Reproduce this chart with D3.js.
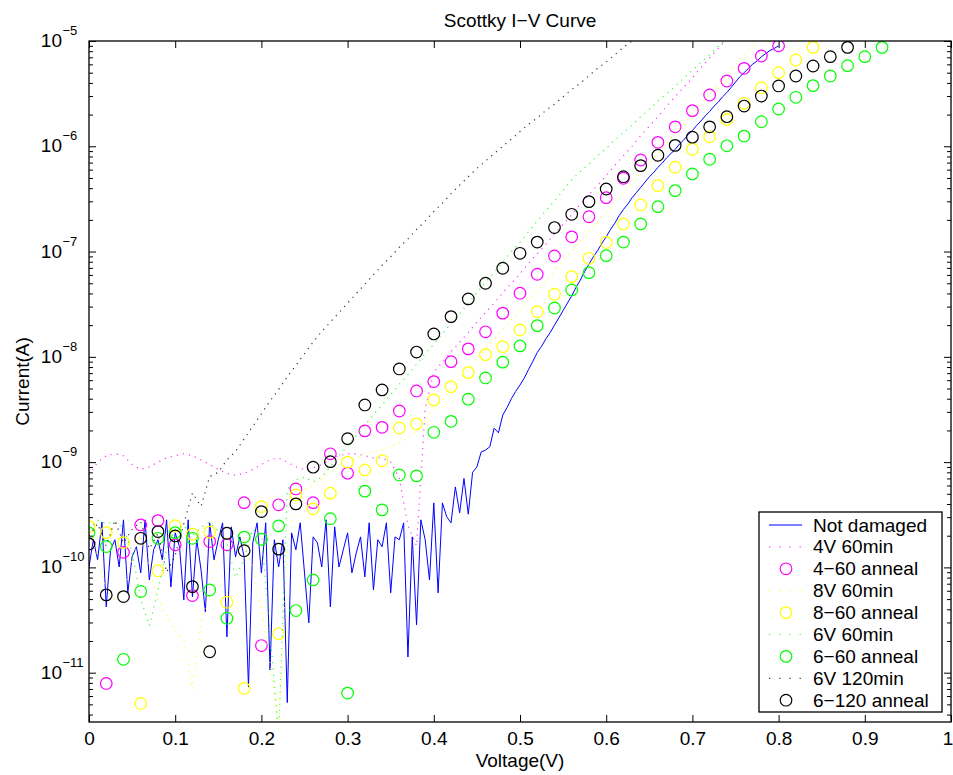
<!DOCTYPE html>
<html>
<head>
<meta charset="utf-8">
<script src="https://cdn.jsdelivr.net/npm/d3@7"></script>
<style>
  body { margin: 0; background: #fff; }
  text { font-family: "Liberation Sans", Arial, Helvetica, sans-serif; }
</style>
</head>
<body>
<div id="chart"></div>
<script>
// ---- data (current in A) ----
// sweep steps of the measurements (V)
const sweepStep = 0.005;   // "Not damaged"
const dottedStep = 0.01;   // damaged curves
const annealStep = 0.02;   // anneal circles

const notDamaged = [
  1.01e-10, 1.83e-10, 1.18e-10, 2.7e-10, 4.22e-11, 1.47e-10, 1.83e-10, 1.01e-10, 2.83e-10, 5.73e-11,
  1.26e-10, 1.57e-10, 8.87e-11, 2.83e-10, 7.6e-11, 1.47e-10, 1.83e-10, 1.18e-10, 2.83e-10, 6.53e-11,
  2.13e-10, 1.57e-10, 4.91e-11, 2.83e-10, 5.25e-11, 1.83e-10, 9.46e-11, 3.78e-11, 2.65e-10, 1.18e-10,
  1.83e-10, 2.65e-10, 2.19e-11, 2.43e-10, 1.26e-10, 1.95e-10, 1.26e-10, 7.3e-12, 1.71e-10, 2.65e-10,
  8.87e-11, 2.65e-10, 1.06e-11, 1.83e-10, 1.01e-10, 1.83e-10, 5.2e-12, 2.13e-10, 1.47e-10, 2.65e-10,
  8.87e-11, 2.97e-11, 1.95e-10, 1.71e-10, 1.01e-10, 2.83e-10, 4.22e-11, 2.43e-10, 1.01e-10, 1.47e-10,
  2.13e-10, 8.87e-11, 1.37e-10, 1.95e-10, 8.13e-11, 2.65e-10, 6.11e-11, 1.83e-10, 1.57e-10, 2.65e-10,
  5.73e-11, 1.95e-10, 1.83e-10, 2.65e-10, 1.41e-11, 1.95e-10, 2.85e-11, 2.83e-10, 1.83e-10, 7.6e-11,
  4.1e-10, 5.73e-11, 4.1e-10, 3.02e-10, 2.65e-10, 5.81e-10,
  3.3e-10, 7.0e-10, 3.2e-10, 8.0e-10, 9.0e-10, 1.25e-9, 1.3e-9, 1.4e-9, 2.1e-9, 1.9e-9,
  2.8e-9, 3.3e-9, 4.0e-9, 4.7e-9,
  5.4e-9, 6.3e-9, 7.6e-9, 9.1e-9, 1.1e-8, 1.26e-8, 1.48e-8, 1.7e-8, 2.0e-8, 2.34e-8,
  2.75e-8, 3.24e-8, 3.8e-8, 4.57e-8, 5.37e-8, 6.46e-8, 7.6e-8, 8.9e-8, 1.02e-7, 1.2e-7,
  1.38e-7, 1.62e-7, 1.86e-7, 2.19e-7, 2.51e-7, 2.82e-7, 3.24e-7, 3.63e-7, 4.07e-7, 4.57e-7,
  5.13e-7, 5.62e-7, 6.31e-7, 6.92e-7, 7.76e-7, 8.51e-7, 9.33e-7, 1.05e-6, 1.15e-6, 1.29e-6,
  1.41e-6, 1.58e-6, 1.74e-6, 1.95e-6, 2.14e-6, 2.4e-6, 2.63e-6, 2.95e-6, 3.24e-6, 3.63e-6,
  4.07e-6, 4.57e-6, 5.01e-6, 5.5e-6, 6.03e-6, 6.46e-6, 7.08e-6, 7.59e-6, 8.13e-6, 8.51e-6,
  9.0e-6
];

const dmg4V60 = [
  7.5e-10, 1.0e-9, 1.15e-9, 1.2e-9, 1.15e-9, 9.5e-10, 8.5e-10, 9.0e-10, 1.0e-9, 1.1e-9,
  1.15e-9, 1.2e-9, 1.15e-9, 1.05e-9, 9.5e-10, 8.5e-10, 7.8e-10, 7.5e-10, 7.8e-10, 8.5e-10,
  9.5e-10, 1.05e-9, 1.1e-9, 1.0e-9, 9.0e-10, 8.5e-10, 8.8e-10, 9.5e-10, 1.05e-9, 1.15e-9,
  1.2e-9, 1.2e-9, 1.15e-9, 1.1e-9, 1.1e-9, 1.0e-9, 7e-10, 2.5e-10, 1.6e-10, 3.2e-9,
  7.2e-9, 8.9e-9, 1.12e-8, 1.38e-8, 1.7e-8, 2.14e-8, 2.63e-8, 3.24e-8, 4.07e-8, 5.01e-8,
  6.17e-8, 7.76e-8, 9.55e-8, 1.17e-7, 1.48e-7, 1.82e-7, 2.24e-7, 2.82e-7, 3.47e-7, 4.27e-7,
  5.25e-7, 6.61e-7, 8.13e-7, 1.0e-6, 1.26e-6, 1.55e-6, 1.91e-6, 2.4e-6, 2.95e-6, 3.63e-6,
  4.47e-6, 5.62e-6, 6.92e-6, 8.51e-6, 1.05e-5
];

const dmg8V60 = [
  2.0e-10, 1.3e-10, 6e-11, 5e-11, 6e-11, 1.2e-10, 2.0e-10, 1.0e-10, 5e-11, 3.5e-11,
  2.5e-11, 2.0e-11, 7e-12, 3e-11, 6e-11, 1.5e-10, 2.0e-10, 1.5e-10, 1.8e-10, 1.0e-10,
  4e-11, 1.2e-11, 3e-12, 1.5e-10, 4.5e-10, 5.5e-10, 6e-10, 7e-10, 8e-10, 9e-10,
  1.0e-9, 1.1e-9, 1.2e-9, 1.25e-9, 1.3e-9, 1.4e-9, 1.5e-9, 1.7e-9, 2.0e-9, 2.5e-9,
  3.24e-9, 3.98e-9, 5.01e-9, 6.17e-9, 7.59e-9, 9.55e-9, 1.17e-8, 1.45e-8, 1.82e-8, 2.24e-8,
  2.75e-8, 3.47e-8, 4.27e-8, 5.25e-8, 6.61e-8, 8.13e-8, 1.0e-7, 1.26e-7, 1.55e-7, 1.91e-7,
  2.34e-7, 2.95e-7, 3.63e-7, 4.47e-7, 5.62e-7, 6.92e-7, 8.51e-7, 1.07e-6, 1.32e-6, 1.62e-6,
  2.0e-6, 2.51e-6, 3.09e-6, 3.8e-6, 4.68e-6, 5.89e-6, 7.24e-6, 8.91e-6, 1.12e-5
];

const dmg6V60 = [
  2.3e-10, 2.8e-10, 2.6e-10, 2.7e-10, 2.4e-10, 1.4e-10, 5e-11, 2.8e-11, 6e-11, 1.5e-10,
  2.3e-10, 2.5e-10, 2.0e-10, 2.4e-10, 2.7e-10, 2.2e-10, 1.7e-10, 8e-11, 1.2e-10, 2.3e-10,
  2.0e-10, 2.5e-11, 2.5e-12, 5.5e-10, 6.8e-10, 7.2e-10, 6.5e-10, 7.2e-10, 9.1e-10, 1.15e-9,
  1.41e-9, 1.78e-9, 2.24e-9, 2.82e-9, 3.47e-9, 4.37e-9, 5.5e-9, 6.76e-9, 8.51e-9, 1.07e-8,
  1.32e-8, 1.66e-8, 2.09e-8, 2.57e-8, 3.24e-8, 4.07e-8, 5.13e-8, 6.31e-8, 7.94e-8, 1.0e-7,
  1.23e-7, 1.55e-7, 1.95e-7, 2.45e-7, 3.02e-7, 3.8e-7, 4.79e-7, 5.75e-7, 6.76e-7, 8.13e-7,
  9.55e-7, 1.15e-6, 1.35e-6, 1.58e-6, 1.91e-6, 2.24e-6, 2.69e-6, 3.16e-6, 3.72e-6, 4.47e-6,
  5.25e-6, 6.31e-6, 7.41e-6, 8.91e-6, 1.05e-5
];

const dmg6V120 = [
  2.0e-10, 2.6e-10, 1.6e-10, 2.8e-10, 1.7e-10, 2.3e-10, 2.7e-10, 1.5e-10, 2.1e-10, 9e-11,
  1.3e-10, 2.6e-10, 5.1e-10, 3.8e-10, 7.3e-10, 8e-10, 1.05e-9, 1.26e-9, 1.66e-9, 2.19e-9,
  2.88e-9, 3.8e-9, 4.9e-9, 6.46e-9, 8.3e-9, 1.07e-8, 1.38e-8, 1.74e-8, 2.14e-8, 2.63e-8,
  3.24e-8, 3.98e-8, 4.9e-8, 6.03e-8, 7.41e-8, 8.91e-8, 1.1e-7, 1.32e-7, 1.62e-7, 1.95e-7,
  2.4e-7, 2.88e-7, 3.55e-7, 4.27e-7, 5.13e-7, 6.17e-7, 7.24e-7, 8.51e-7, 1.0e-6, 1.17e-6,
  1.38e-6, 1.62e-6, 1.86e-6, 2.19e-6, 2.51e-6, 2.95e-6, 3.47e-6, 3.98e-6, 4.68e-6, 5.5e-6,
  6.31e-6, 7.41e-6, 8.71e-6, 1.0e-5, 1.17e-5
];

const anneal4_60 = [
  1.67e-10, 7.9e-12, 1.39e-10, 2.53e-10, 2.78e-10, 1.64e-10, 5.4e-11, 1.76e-10, 1.64e-10, 4.12e-10,
  1.81e-11, 3.93e-10, 5.56e-10, 4.12e-10, 1.2e-9, 7.85e-10, 1.98e-9, 2.14e-9, 3.06e-9, 4.74e-9,
  5.82e-9, 9.0e-9, 1.19e-8, 1.73e-8, 2.6e-8, 4.02e-8, 6.09e-8, 9.08e-8, 1.38e-7, 2.14e-7,
  3.25e-7, 4.97e-7, 7.41e-7, 1.09e-6, 1.53e-6, 2.18e-6, 3.07e-6, 4.17e-6, 5.5e-6, 7.2e-6,
  9.0e-6
];

const anneal8_60 = [
  2.44e-10, 2.14e-10, 1.72e-10, 5.1e-12, 9.3e-11, 2.49e-10, 2.07e-10, 2.16e-10, 4.67e-11, 7.1e-12,
  3.78e-10, 2.34e-11, 4.88e-10, 3.6e-10, 5.07e-10, 1.0e-9, 8.43e-10, 1.03e-9, 2.11e-9, 2.31e-9,
  3.9e-9, 5.21e-9, 7.08e-9, 1.05e-8, 1.25e-8, 1.8e-8, 2.69e-8, 3.93e-8, 5.78e-8, 8.63e-8,
  1.22e-7, 1.83e-7, 2.77e-7, 4.23e-7, 6.32e-7, 9.37e-7, 1.23e-6, 1.8e-6, 2.56e-6, 3.6e-6,
  5.0e-6, 6.6e-6, 8.7e-6
];

const anneal6_60 = [
  2.13e-10, 1.58e-10, 1.34e-11, 5.9e-11, 1.89e-10, 2.14e-10, 1.89e-10, 6.1e-11, 3.29e-11, 1.94e-10,
  1.85e-10, 2.48e-10, 3.89e-11, 7.6e-11, 2.9e-10, 6.4e-12, 5.3e-10, 3.52e-10, 7.55e-10, 7.4e-10,
  1.92e-9, 2.44e-9, 3.96e-9, 6.3e-9, 8.9e-9, 1.27e-8, 1.98e-8, 2.91e-8, 4.32e-8, 6.3e-8,
  9.14e-8, 1.23e-7, 1.83e-7, 2.67e-7, 3.79e-7, 5.46e-7, 7.53e-7, 1.01e-6, 1.25e-6, 1.71e-6,
  2.26e-6, 2.92e-6, 3.77e-6, 4.65e-6, 5.83e-6, 7.1e-6, 8.7e-6
];

const anneal6_120 = [
  1.67e-10, 5.48e-11, 5.28e-11, 1.89e-10, 2.19e-10, 1.99e-10, 6.57e-11, 1.58e-11, 2.11e-10, 1.44e-10,
  3.39e-10, 1.49e-10, 4.01e-10, 8.95e-10, 1.01e-9, 1.67e-9, 3.49e-9, 4.85e-9, 7.67e-9, 1.11e-8,
  1.65e-8, 2.41e-8, 3.55e-8, 5.0e-8, 6.94e-8, 9.63e-8, 1.23e-7, 1.69e-7, 2.26e-7, 2.98e-7,
  3.93e-7, 5.14e-7, 6.55e-7, 8.22e-7, 1.02e-6, 1.22e-6, 1.53e-6, 1.91e-6, 2.41e-6, 3.0e-6,
  3.74e-6, 4.65e-6, 5.79e-6, 7.1e-6, 8.7e-6
];

const xTicks = [0, 0.1, 0.2, 0.3, 0.4, 0.5, 0.6, 0.7, 0.8, 0.9, 1];
const yDecades = [-11, -10, -9, -8, -7, -6, -5];
const yMin = 3.4e-12, yMax = 1e-5;

const series = [
  { name: 'Not damaged', values: notDamaged, step: sweepStep, color: '#0000ff', kind: 'line' },
  { name: '4V 60min', values: dmg4V60, step: dottedStep, color: '#ff00ff', kind: 'dot' },
  { name: '4\u221260 anneal', values: anneal4_60, step: annealStep, color: '#ff00ff', kind: 'circle' },
  { name: '8V 60min', values: dmg8V60, step: dottedStep, color: '#ffff00', kind: 'dot' },
  { name: '8\u221260 anneal', values: anneal8_60, step: annealStep, color: '#ffff00', kind: 'circle' },
  { name: '6V 60min', values: dmg6V60, step: dottedStep, color: '#00ff00', kind: 'dot' },
  { name: '6\u221260 anneal', values: anneal6_60, step: annealStep, color: '#00ff00', kind: 'circle' },
  { name: '6V 120min', values: dmg6V120, step: dottedStep, color: '#000000', kind: 'dot' },
  { name: '6\u2212120 anneal', values: anneal6_120, step: annealStep, color: '#000000', kind: 'circle' },
];

// ---- layout ----
const W = 953, H = 775;
const box = { left: 89, top: 41, right: 951, bottom: 722 };
const fontSize = 19;

const svg = d3.select('#chart').append('svg').attr('width', W).attr('height', H);
svg.append('rect').attr('width', W).attr('height', H).attr('fill', '#fff');

const x = d3.scaleLinear().domain([0, 1]).range([box.left, box.right]);
const y = d3.scaleLog().domain([yMin, yMax]).range([box.bottom, box.top]);

svg.append('clipPath').attr('id', 'clip')
  .append('rect')
  .attr('x', box.left).attr('y', box.top)
  .attr('width', box.right - box.left).attr('height', box.bottom - box.top);

const toPoints = (s) => s.values.map((v, i) => ({ v: i * s.step, i: v }));

// ---- axes ----
const majorY = yDecades.map((e) => Math.pow(10, e));
const minorY = [];
yDecades.concat([-12]).forEach((e) => {
  for (let m = 2; m <= 9; m++) {
    const val = m * Math.pow(10, e);
    if (val > yMin && val < yMax) minorY.push(val);
  }
});

const styleAxis = (g) => {
  g.select('.domain').remove();
  g.selectAll('line').attr('stroke', '#000').attr('stroke-width', 1);
  g.attr('font-family', null).attr('font-size', null);
};

const xLabels = svg.append('g').attr('transform', `translate(0,${box.bottom})`)
  .call(d3.axisBottom(x).tickValues(xTicks).tickSizeInner(-7).tickSizeOuter(0)
    .tickPadding(10).tickFormat(d3.format('~g')))
  .call(styleAxis)
  .selectAll('text').attr('font-size', fontSize).attr('fill', '#000');
// last label sits on the right edge of the window
xLabels.filter((d) => d === 1).attr('dx', -3.5);

svg.append('g').attr('transform', `translate(0,${box.top})`)
  .call(d3.axisTop(x).tickValues(xTicks).tickSizeInner(-7).tickSizeOuter(0).tickFormat(''))
  .call(styleAxis);

[[d3.axisLeft, box.left], [d3.axisRight, box.right]].forEach(([axisFn, xpos]) => {
  svg.append('g').attr('transform', `translate(${xpos},0)`)
    .call(axisFn(y).tickValues(majorY).tickSizeInner(-7).tickSizeOuter(0).tickFormat(''))
    .call(styleAxis);
  svg.append('g').attr('transform', `translate(${xpos},0)`)
    .call(axisFn(y).tickValues(minorY).tickSizeInner(-4).tickSizeOuter(0).tickFormat(''))
    .call(styleAxis);
});

// y tick labels 10^n
const yLab = svg.append('g');
yDecades.forEach((e) => {
  const yy = y(Math.pow(10, e));
  yLab.append('text').attr('x', 62).attr('y', yy + 6).attr('text-anchor', 'end')
    .attr('font-size', fontSize).text('10');
  yLab.append('text').attr('x', 62.5).attr('y', yy - 6).attr('font-size', 13)
    .text('\u2212' + Math.abs(e));
});

// ---- marks ----
const plot = svg.append('g').attr('clip-path', 'url(#clip)');
const line = d3.line().x((d) => x(d.v)).y((d) => y(Math.max(d.i, 1e-13)));

series.forEach((s) => {
  const pts = toPoints(s);
  if (s.kind === 'line') {
    plot.append('path').datum(pts).attr('d', line)
      .attr('fill', 'none').attr('stroke', s.color).attr('stroke-width', 1);
  } else if (s.kind === 'dot') {
    plot.append('path').datum(pts).attr('d', line)
      .attr('fill', 'none').attr('stroke', s.color).attr('stroke-width', 1.2)
      .attr('stroke-dasharray', '1.2,5').attr('opacity', 0.8);
  } else {
    plot.append('g').selectAll('circle').data(pts).enter().append('circle')
      .attr('cx', (d) => x(d.v)).attr('cy', (d) => y(d.i)).attr('r', 5.8)
      .attr('fill', 'none').attr('stroke', s.color).attr('stroke-width', 1.2);
  }
});

// box
svg.append('rect').attr('x', box.left).attr('y', box.top)
  .attr('width', box.right - box.left).attr('height', box.bottom - box.top)
  .attr('fill', 'none').attr('stroke', '#000').attr('stroke-width', 1.3);

// ---- titles ----
svg.append('text').attr('x', (box.left + box.right) / 2).attr('y', 27)
  .attr('text-anchor', 'middle').attr('font-size', fontSize).text('Scottky I\u2212V Curve');
svg.append('text').attr('x', (box.left + box.right) / 2).attr('y', 767)
  .attr('text-anchor', 'middle').attr('font-size', fontSize).text('Voltage(V)');
svg.append('text').attr('transform', `translate(29,${(box.top + box.bottom) / 2}) rotate(-90)`)
  .attr('text-anchor', 'middle').attr('font-size', fontSize).text('Current(A)');

// ---- legend ----
const lg = svg.append('g');
lg.append('rect').attr('x', 759).attr('y', 512).attr('width', 183).attr('height', 200)
  .attr('fill', '#fff').attr('stroke', '#000').attr('stroke-width', 1.3);
series.forEach((s, k) => {
  const yy = 525 + k * 21.9;
  if (s.kind === 'line') {
    lg.append('line').attr('x1', 769).attr('x2', 802).attr('y1', yy).attr('y2', yy)
      .attr('stroke', s.color).attr('stroke-width', 1);
  } else if (s.kind === 'dot') {
    lg.append('line').attr('x1', 769).attr('x2', 802).attr('y1', yy).attr('y2', yy)
      .attr('stroke', s.color).attr('stroke-width', 1.2).attr('stroke-dasharray', '1.2,9')
      .attr('opacity', 0.8);
  } else {
    lg.append('circle').attr('cx', 786).attr('cy', yy).attr('r', 5.8)
      .attr('fill', 'none').attr('stroke', s.color).attr('stroke-width', 1.2);
  }
  lg.append('text').attr('x', 813).attr('y', yy + 6.5).attr('font-size', fontSize).text(s.name);
});
</script>
</body>
</html>
